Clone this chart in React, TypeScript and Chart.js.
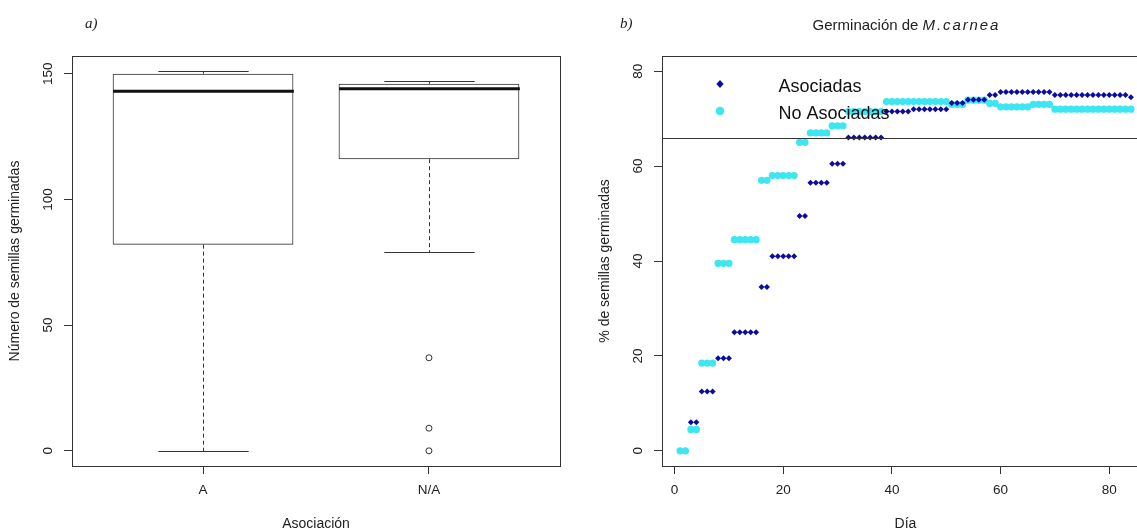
import React, { useEffect, useRef } from 'react';
import { Chart, registerables } from 'chart.js';

Chart.register(...registerables);
Chart.defaults.font.family = "'Liberation Sans', Arial, sans-serif";

// ---------- Panel a) boxplot data ----------
const BOX_CATEGORIES = ['A', 'N/A'];
const BOX_POSITIONS = [1, 2];
const WHISKER_LOW = [0, 79];
const Q1 = [82, 116];
const MEDIAN = [143, 144];
const Q3 = [150, 146];
const WHISKER_HIGH = [151, 147];
const OUTLIER_POS = [2, 2, 2];
const OUTLIER_VALUES = [37, 9, 0];
const BOX_Y_TICKS = [0, 50, 100, 150];

// ---------- Panel b) germination data ----------
const ASOC_DAYS = [
  3, 4, 5, 6, 7, 8, 9, 10, 11, 12, 13, 14, 15, 16, 17, 18, 19, 20, 21, 22,
  23, 24, 25, 26, 27, 28, 29, 30, 31, 32, 33, 34, 35, 36, 37, 38, 39, 40, 41, 42,
  43, 44, 45, 46, 47, 48, 49, 50, 51, 52, 53, 54, 55, 56, 57, 58, 59, 60, 61, 62,
  63, 64, 65, 66, 67, 68, 69, 70, 71, 72, 73, 74, 75, 76, 77, 78, 79, 80, 81, 82,
  83, 84,
];
const ASOC_PCT = [
  6, 6, 12.5, 12.5, 12.5, 19.5, 19.5, 19.5, 25, 25, 25, 25, 25, 34.5, 34.5, 41, 41, 41, 41, 41,
  49.5, 49.5, 56.5, 56.5, 56.5, 56.5, 60.5, 60.5, 60.5, 66, 66, 66, 66, 66, 66, 66, 71.5, 71.5, 71.5, 71.5,
  71.5, 72, 72, 72, 72, 72, 72, 72, 73.3, 73.3, 73.3, 74, 74, 74, 74, 75, 75, 75.6, 75.6, 75.6,
  75.6, 75.6, 75.6, 75.6, 75.6, 75.6, 75.6, 75, 75, 75, 75, 75, 75, 75, 75, 75, 75, 75, 75, 75,
  75, 74.5,
];
const NOASOC_DAYS = [
  1, 2, 3, 4, 5, 6, 7, 8, 9, 10, 11, 12, 13, 14, 15, 16, 17, 18, 19, 20,
  21, 22, 23, 24, 25, 26, 27, 28, 29, 30, 31, 32, 33, 34, 35, 36, 37, 38, 39, 40,
  41, 42, 43, 44, 45, 46, 47, 48, 49, 50, 51, 52, 53, 54, 55, 56, 57, 58, 59, 60,
  61, 62, 63, 64, 65, 66, 67, 68, 69, 70, 71, 72, 73, 74, 75, 76, 77, 78, 79, 80,
  81, 82, 83, 84,
];
const NOASOC_PCT = [
  0, 0, 4.5, 4.5, 18.5, 18.5, 18.5, 39.5, 39.5, 39.5, 44.5, 44.5, 44.5, 44.5, 44.5, 57, 57, 58, 58, 58,
  58, 58, 65, 65, 67, 67, 67, 67, 68.5, 68.5, 68.5, 71.5, 71.5, 71.5, 71.5, 71.5, 71.5, 71.5, 73.6, 73.6,
  73.6, 73.6, 73.6, 73.6, 73.6, 73.6, 73.6, 73.6, 73.6, 73.6, 73, 73, 73, 73.9, 73.9, 73.9, 73.9, 73.2, 73.2, 72.5,
  72.5, 72.5, 72.5, 72.5, 72.5, 73, 73, 73, 73, 72, 72, 72, 72, 72, 72, 72, 72, 72, 72, 72,
  72, 72, 72, 72,
];
const DAY_TICKS = [0, 20, 40, 60, 80];
const PCT_TICKS = [0, 20, 40, 60, 80];
const REFERENCE_LINE = 66;
const SERIES_NAMES = ['Asociadas', 'No Asociadas'];

// ---------- texts ----------
const LEFT_TAG = 'a)';
const RIGHT_TAG = 'b)';
const LEFT_X_TITLE = 'Asociación';
const LEFT_Y_TITLE = 'Número de semillas germinadas';
const RIGHT_X_TITLE = 'Día';
const RIGHT_Y_TITLE = '% de semillas germinadas';
const TITLE_PREFIX = 'Germinación de ';
const TITLE_SPECIES = 'M.carnea';

// ---------- styles ----------
const DARK_BLUE = '#0c0ca0';
const CYAN = '#3de6f0';
const INK = '#222';
const LINE = '#333';
const SANS = "'Liberation Sans', Arial, sans-serif";
const TICK_FONT = `13.5px ${SANS}`;
const TITLE_FONT = `14px ${SANS}`;
const TAG_FONT = "italic 15px 'Liberation Serif', 'Times New Roman', serif";

function rotatedText(ctx: CanvasRenderingContext2D, text: string, x: number, y: number) {
  ctx.save();
  ctx.translate(x, y);
  ctx.rotate(-Math.PI / 2);
  ctx.textAlign = 'center';
  ctx.textBaseline = 'middle';
  ctx.fillText(text, 0, 0);
  ctx.restore();
}

function drawFrameAndAxisText(
  chart: any,
  xTicks: { value: number; label: string }[],
  yTicks: number[],
  xTitle: string,
  yTitle: string,
  tag: string,
  tagX: number,
) {
  const ctx: CanvasRenderingContext2D = chart.ctx;
  const { left, right, top, bottom } = chart.chartArea;
  const xs = chart.scales.x;
  const ys = chart.scales.y;
  ctx.save();
  ctx.strokeStyle = LINE;
  ctx.lineWidth = 1;
  ctx.strokeRect(left + 0.5, top + 0.5, right - left, bottom - top);
  ctx.fillStyle = INK;
  ctx.font = TICK_FONT;
  ctx.textAlign = 'center';
  ctx.textBaseline = 'middle';
  xTicks.forEach((t) => {
    ctx.fillText(t.label, xs.getPixelForValue(t.value), bottom + 24.5);
  });
  yTicks.forEach((v) => {
    rotatedText(ctx, String(v), left - 24, ys.getPixelForValue(v));
  });
  ctx.font = TITLE_FONT;
  ctx.fillText(xTitle, (left + right) / 2, bottom + 58.5);
  rotatedText(ctx, yTitle, left - 56.5, (top + bottom) / 2);
  ctx.font = TAG_FONT;
  ctx.textAlign = 'left';
  ctx.textBaseline = 'alphabetic';
  ctx.fillText(tag, tagX, 28);
  ctx.restore();
}

const boxPlugin = {
  id: 'boxExtras',
  afterDatasetsDraw(chart: any) {
    const ctx: CanvasRenderingContext2D = chart.ctx;
    const xs = chart.scales.x;
    const ys = chart.scales.y;
    ctx.save();
    ctx.strokeStyle = LINE;
    BOX_POSITIONS.forEach((pos, i) => {
      const cx = Math.round(xs.getPixelForValue(pos)) + 0.5;
      const halfBox = xs.getPixelForValue(pos + 0.4) - xs.getPixelForValue(pos);
      const halfStaple = xs.getPixelForValue(pos + 0.2) - xs.getPixelForValue(pos);
      const yLow = Math.round(ys.getPixelForValue(WHISKER_LOW[i])) + 0.5;
      const yHigh = Math.round(ys.getPixelForValue(WHISKER_HIGH[i])) + 0.5;
      const yQ1 = ys.getPixelForValue(Q1[i]);
      const yQ3 = ys.getPixelForValue(Q3[i]);
      const yMed = ys.getPixelForValue(MEDIAN[i]);
      ctx.lineWidth = 1;
      ctx.setLineDash([4, 3]);
      ctx.beginPath();
      ctx.moveTo(cx, yQ1);
      ctx.lineTo(cx, yLow);
      ctx.moveTo(cx, yQ3);
      ctx.lineTo(cx, yHigh);
      ctx.stroke();
      ctx.setLineDash([]);
      ctx.beginPath();
      ctx.moveTo(cx - halfStaple, yLow);
      ctx.lineTo(cx + halfStaple, yLow);
      ctx.moveTo(cx - halfStaple, yHigh);
      ctx.lineTo(cx + halfStaple, yHigh);
      ctx.stroke();
      ctx.lineWidth = 3;
      ctx.strokeStyle = '#111';
      ctx.beginPath();
      ctx.moveTo(cx - halfBox, yMed);
      ctx.lineTo(cx + halfBox, yMed);
      ctx.stroke();
      ctx.strokeStyle = LINE;
    });
    ctx.restore();
    drawFrameAndAxisText(
      chart,
      BOX_POSITIONS.map((v, i) => ({ value: v, label: BOX_CATEGORIES[i] })),
      BOX_Y_TICKS,
      LEFT_X_TITLE,
      LEFT_Y_TITLE,
      LEFT_TAG,
      85,
    );
  },
};

const germPlugin = {
  id: 'germExtras',
  afterDatasetsDraw(chart: any) {
    const ctx: CanvasRenderingContext2D = chart.ctx;
    const { left, right } = chart.chartArea;
    const ys = chart.scales.y;
    ctx.save();
    const yRef = Math.round(ys.getPixelForValue(REFERENCE_LINE)) + 0.5;
    ctx.strokeStyle = LINE;
    ctx.lineWidth = 1;
    ctx.beginPath();
    ctx.moveTo(left, yRef);
    ctx.lineTo(right, yRef);
    ctx.stroke();
    // legend
    const symX = left + 58;
    const textX = left + 116.5;
    ctx.fillStyle = DARK_BLUE;
    ctx.beginPath();
    ctx.moveTo(symX, 84 - 4);
    ctx.lineTo(symX + 3.6, 84);
    ctx.lineTo(symX, 84 + 4);
    ctx.lineTo(symX - 3.6, 84);
    ctx.closePath();
    ctx.fill();
    ctx.fillStyle = CYAN;
    ctx.beginPath();
    ctx.arc(symX, 111, 4.3, 0, Math.PI * 2);
    ctx.fill();
    ctx.fillStyle = '#111';
    ctx.font = `18px ${SANS}`;
    ctx.textAlign = 'left';
    ctx.textBaseline = 'alphabetic';
    ctx.fillText(SERIES_NAMES[0], textX, 92);
    ctx.fillText(SERIES_NAMES[1], textX, 119);
    // title with italic species name
    ctx.fillStyle = INK;
    ctx.font = `15px ${SANS}`;
    const w1 = ctx.measureText(TITLE_PREFIX).width;
    ctx.font = `italic 15px ${SANS}`;
    const spacing = 1.9;
    const chars = TITLE_SPECIES.split('');
    const widths = chars.map((c) => ctx.measureText(c).width);
    const w2 = widths.reduce((a, b) => a + b, 0) + spacing * (chars.length - 1);
    let x = (left + right) / 2 - (w1 + w2) / 2;
    ctx.font = `15px ${SANS}`;
    ctx.fillText(TITLE_PREFIX, x, 29.5);
    x += w1;
    ctx.font = `italic 15px ${SANS}`;
    chars.forEach((c, i) => {
      ctx.fillText(c, x, 29.5);
      x += widths[i] + spacing;
    });
    ctx.restore();
    drawFrameAndAxisText(
      chart,
      DAY_TICKS.map((v) => ({ value: v, label: String(v) })),
      PCT_TICKS,
      RIGHT_X_TITLE,
      RIGHT_Y_TITLE,
      RIGHT_TAG,
      40,
    );
  },
};

function tickSetter(values: number[]) {
  return (scale: any) => {
    scale.ticks = values.map((v) => ({ value: v }));
  };
}

const tickGrid = { drawOnChartArea: false, drawTicks: true, tickLength: 8, color: LINE, lineWidth: 1, offset: false };

export default function App() {
  const leftRef = useRef<HTMLCanvasElement>(null);
  const rightRef = useRef<HTMLCanvasElement>(null);

  useEffect(() => {
    const left = new Chart(leftRef.current as HTMLCanvasElement, {
      type: 'bar',
      data: {
        datasets: [
          {
            type: 'scatter',
            data: OUTLIER_POS.map((x, i) => ({ x, y: OUTLIER_VALUES[i] })),
            pointStyle: 'circle',
            pointRadius: 3,
            pointBackgroundColor: '#fff',
            pointBorderColor: LINE,
            pointBorderWidth: 1,
          } as any,
          {
            type: 'bar',
            data: BOX_POSITIONS.map((x, i) => ({ x, y: [Q1[i], Q3[i]] })),
            backgroundColor: 'rgba(255,255,255,0)',
            borderColor: LINE,
            borderWidth: 1,
            borderSkipped: false,
            barPercentage: 0.8,
            categoryPercentage: 1,
          } as any,
        ],
      },
      options: {
        responsive: false,
        animation: false,
        events: [],
        layout: { padding: { top: 56, right: 20, left: 0, bottom: 0 } },
        plugins: { legend: { display: false }, tooltip: { enabled: false } },
        scales: {
          x: {
            type: 'linear',
            min: 0.42,
            max: 2.58,
            offset: false,
            afterBuildTicks: tickSetter(BOX_POSITIONS),
            ticks: { display: false },
            grid: tickGrid,
            border: { display: false },
            afterFit: (s: any) => {
              s.height = 65;
            },
          },
          y: {
            type: 'linear',
            min: -6.04,
            max: 157.04,
            afterBuildTicks: tickSetter(BOX_Y_TICKS),
            ticks: { display: false },
            grid: tickGrid,
            border: { display: false },
            afterFit: (s: any) => {
              s.width = 72;
            },
          },
        },
      } as any,
      plugins: [boxPlugin],
    });

    const right = new Chart(rightRef.current as HTMLCanvasElement, {
      type: 'scatter',
      data: {
        datasets: [
          {
            label: SERIES_NAMES[0],
            data: ASOC_DAYS.map((d, i) => ({ x: d, y: ASOC_PCT[i] })),
            pointStyle: 'rectRot',
            pointRadius: 3,
            backgroundColor: DARK_BLUE,
            borderColor: DARK_BLUE,
            borderWidth: 0,
          },
          {
            label: SERIES_NAMES[1],
            data: NOASOC_DAYS.map((d, i) => ({ x: d, y: NOASOC_PCT[i] })),
            pointStyle: 'circle',
            pointRadius: 3.6,
            backgroundColor: CYAN,
            borderColor: CYAN,
            borderWidth: 0,
          },
        ],
      },
      options: {
        responsive: false,
        animation: false,
        events: [],
        layout: { padding: { top: 56, right: 51, left: 0, bottom: 0 } },
        plugins: { legend: { display: false }, tooltip: { enabled: false } },
        scales: {
          x: {
            type: 'linear',
            min: -2.32,
            max: 87.32,
            afterBuildTicks: tickSetter(DAY_TICKS),
            ticks: { display: false },
            grid: tickGrid,
            border: { display: false },
            afterFit: (s: any) => {
              s.height = 65;
            },
          },
          y: {
            type: 'linear',
            min: -3.2,
            max: 83.2,
            afterBuildTicks: tickSetter(PCT_TICKS),
            ticks: { display: false },
            grid: tickGrid,
            border: { display: false },
            afterFit: (s: any) => {
              s.width = 82;
            },
          },
        },
      } as any,
      plugins: [germPlugin],
    });

    return () => {
      left.destroy();
      right.destroy();
    };
  }, []);

  return (
    <div
      style={{
        position: 'absolute',
        left: 0,
        top: 0,
        width: 1137,
        height: 531,
        overflow: 'hidden',
        background: '#fff',
      }}
    >
      <canvas
        ref={leftRef}
        width={580}
        height={531}
        style={{ position: 'absolute', left: 0, top: 0, width: 580, height: 531 }}
      />
      <canvas
        ref={rightRef}
        width={620}
        height={531}
        style={{ position: 'absolute', left: 580, top: 0, width: 620, height: 531 }}
      />
    </div>
  );
}
